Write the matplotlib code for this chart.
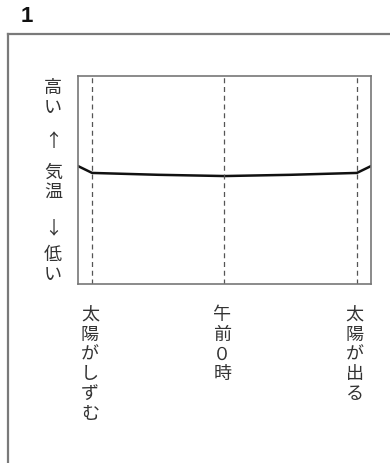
import matplotlib
matplotlib.use("Agg")
import matplotlib.pyplot as plt
from matplotlib.lines import Line2D

plt.rcParams['font.family'] = ['Noto Sans CJK JP', 'DejaVu Sans']

# data
hours = [17.36, 18, 21, 24, 27, 30, 30.64]
temps = [5.67, 5.34, 5.25, 5.19, 5.25, 5.34, 5.67]
event_hours = [18, 24, 30]
event_labels = ["太陽がしずむ", "午前０時", "太陽が出る"]
ylabel_parts = ["高い", "↑", "気温", "↓", "低い"]
ylabel_pos = [0.899, 0.688, 0.495, 0.274, 0.096]
panel_label = "1"

W, H = 390, 464
fig = plt.figure(figsize=(W / 100, H / 100), dpi=100)
fig.patch.set_facecolor("white")

# outer frame (open right/bottom)
fig.add_artist(Line2D([8 / W, 1.0], [1 - 35 / H, 1 - 35 / H], transform=fig.transFigure,
                      color="#7a7a7a", lw=1.6))
fig.add_artist(Line2D([8 / W, 8 / W], [1 - 35 / H, 0.0], transform=fig.transFigure,
                      color="#7a7a7a", lw=1.6))
fig.text(27 / W, 1 - 17 / H, panel_label, family="Liberation Sans", weight="bold",
         fontsize=16, ha="center", va="center", color="#111111")

ax = fig.add_axes([78 / W, (H - 285) / H, 293 / W, 208 / H])
ax.plot(hours, temps, color="#111111", lw=1.8, solid_capstyle="round")
for h in event_hours:
    ax.axvline(h, color="#555555", lw=0.9, ls=(0, (4, 3)))
ax.set_xlim(17.36, 30.64)
ax.set_ylim(0, 10)
ax.set_xticks([])
ax.set_yticks([])
for s in ax.spines.values():
    s.set_color("#777777")
    s.set_linewidth(1.2)

for h, lab in zip(event_hours, event_labels):
    ax.text(h - 0.1, -0.1, "\n".join(lab), transform=ax.get_xaxis_transform(),
            ha="center", va="top", fontsize=13, linespacing=1.13, color="#333333")

for part, p in zip(ylabel_parts, ylabel_pos):
    fig.text(53 / W, (H - 285 + p * 208) / H, "\n".join(part), ha="center", va="center",
             fontsize=13, linespacing=1.08, color="#333333")

fig.savefig("out.png", dpi=100, facecolor="white")
